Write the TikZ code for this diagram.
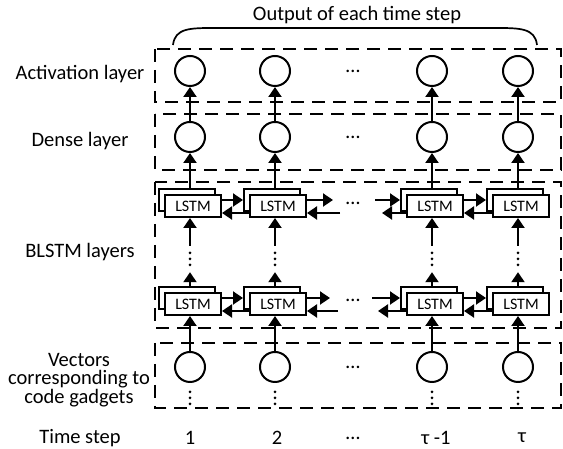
\documentclass[tikz,border=0pt]{standalone}
\usepackage{fontspec}
\setmainfont{Carlito}
\usetikzlibrary{arrows.meta}

\tikzset{
  layerbox/.style={draw,line width=2pt,dash pattern=on 13pt off 8pt},
  neuron/.style={circle,draw,line width=2pt,minimum size=30pt,inner sep=0pt},
  lstmcell/.style={rectangle,draw,fill=white,line width=2pt,minimum width=56pt,
    minimum height=22pt,inner sep=0pt,font=\fontsize{16}{16}\selectfont},
  flow/.style={line width=2pt,-{Triangle[length=10pt,width=13pt]}},
  tag/.style={font=\fontsize{20.5}{18.5}\selectfont,align=center},
  vdotbox/.style={minimum width=5pt,minimum height=26pt,inner sep=0pt,
    path picture={\foreach \k in {-6,0,6}
      \fill (path picture bounding box.center) ++(0,\k pt) circle (1.5pt);}}
}

\begin{document}
\begin{tikzpicture}[x=1pt,y=1pt]
\useasboundingbox (0,0) rectangle (563,449);

% layer frames
\draw[layerbox] (155,400) rectangle (561,347);
\draw[layerbox] (155,335) rectangle (561,279);
\draw[layerbox] (155,267) rectangle (561,121);
\draw[layerbox] (155,106) rectangle (561,41);

% brace over the outputs
\node[tag]
(outlab)
at (357,434)
{Output of each time step};

\draw[line width=1.7pt]
(173,404) .. controls (175,421) and (190,421) .. (215,421)
-- (495,421) .. controls (520,421) and (535,421) .. (537,404);

% layer names
\node[tag] (actlab) at (80,375) {Activation layer};
\node[tag] (dnslab) at (80,308) {Dense layer};
\node[tag] (blslab) at (80,197) {BLSTM layers};
\node[tag] (veclab) at (79,69) {Vectors\\corresponding to\\code gadgets};
\node[tag] (steplab) at (80,11) {Time step};

% one column per time step
\foreach \i/\c in {1/190,2/275,3/432,4/518} {
  \node[neuron] (act\i) at (\c,378) {};
  \node[neuron] (dns\i) at (\c,312) {};
  \node[lstmcell] (ubk\i) at (\c-3,249) {};
  \node[lstmcell] (ufr\i) at (\c+3,243) {LSTM};
  \node[vdotbox] (mid\i) at (\c,190) {};
  \node[lstmcell] (lbk\i) at (\c-3,151) {};
  \node[lstmcell] (lfr\i) at (\c+3,145) {LSTM};
  \node[neuron] (vec\i) at (\c,82) {};
  \node[vdotbox] (low\i) at (\c,51) {};

  \draw[flow] (dns\i) -- (act\i);
  \draw[flow] (dns\i |- ubk\i.north) -- (dns\i.south);
  \draw[flow] (mid\i.north) -- (mid\i |- ufr\i.south);
  \draw[flow] (mid\i |- lbk\i.north) -- (mid\i.south);
  \draw[flow] (vec\i) -- (vec\i |- lfr\i.south);
}

% skipped steps
\node[tag] (actdots) at (353,378) {…};
\node[tag] (dnsdots) at (353,312) {…};
\node[tag] (udots) at (353,246) {…};
\node[tag] (ldots) at (353,149) {…};
\node[tag] (vecdots) at (353,82) {…};

% upper BLSTM, both directions
\draw[flow] ([yshift=6pt]ufr1.east) -- (ubk2.west);
\draw[flow] ([yshift=-7pt]ufr2.west) -- ([yshift=-7pt]ufr1.east);
\draw[flow] ([yshift=6pt]ufr3.east) -- (ubk4.west);
\draw[flow] ([yshift=-7pt]ufr4.west) -- ([yshift=-7pt]ufr3.east);
\coordinate (uout) at (333,249);
\coordinate (uback) at (340,236);
\coordinate (uin) at (375,249);
\coordinate (uret) at (382,236);
\draw[flow] ([yshift=6pt]ufr2.east) -- (uout);
\draw[flow] (uback) -- ([yshift=-7pt]ufr2.east);
\draw[flow] (uin) -- (ubk3.west);
\draw[flow] ([yshift=-7pt]ufr3.west) -- (uret);

% lower BLSTM, both directions
\draw[flow] ([yshift=6pt]lfr1.east) -- (lbk2.west);
\draw[flow] ([yshift=-7pt]lfr2.west) -- ([yshift=-7pt]lfr1.east);
\draw[flow] ([yshift=6pt]lfr3.east) -- (lbk4.west);
\draw[flow] ([yshift=-7pt]lfr4.west) -- ([yshift=-7pt]lfr3.east);
\coordinate (lout) at (330,151);
\coordinate (lback) at (338,138);
\coordinate (lin) at (372,151);
\coordinate (lret) at (378,138);
\draw[flow] ([yshift=6pt]lfr2.east) -- (lout);
\draw[flow] (lback) -- ([yshift=-7pt]lfr2.east);
\draw[flow] (lin) -- (lbk3.west);
\draw[flow] ([yshift=-7pt]lfr3.west) -- (lret);

% time steps
\node[tag] (t1) at (190,11) {1};
\node[tag] (t2) at (277,11) {2};
\node[tag] (tdots) at (353,11) {…};
\node[tag] (t3) at (436,11) {τ -1};
\node[tag] (t4) at (522,11) {τ};

\end{tikzpicture}
\end{document}
